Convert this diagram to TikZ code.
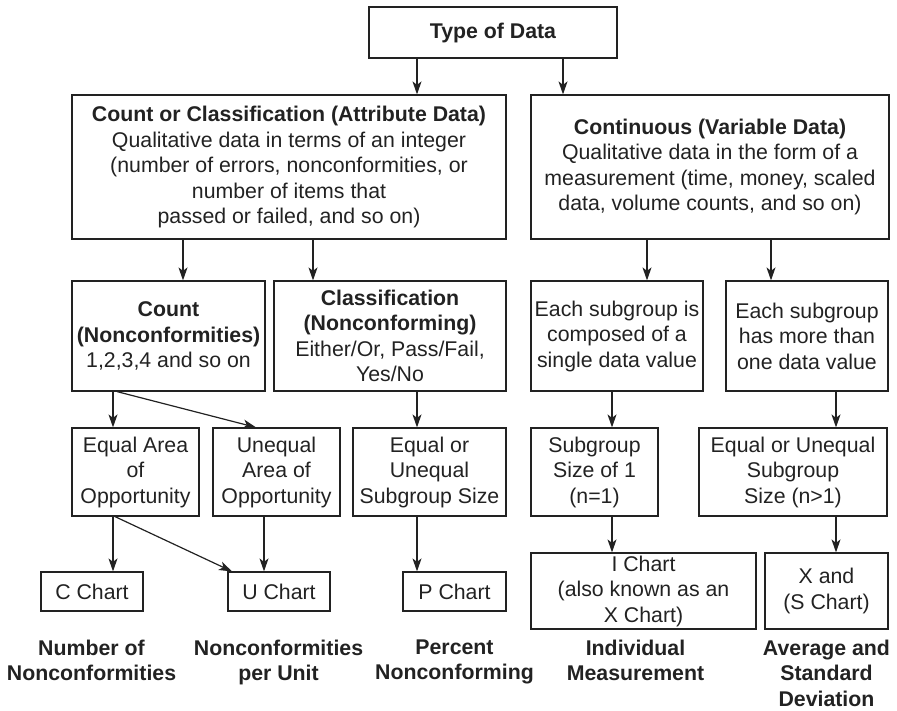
\documentclass[tikz,border=0pt]{standalone}
\usepackage{fontspec}
\setmainfont{Liberation Sans}
\usetikzlibrary{arrows.meta}
\definecolor{ink}{HTML}{222222}

\newcommand{\dropto}[3]{%
  \coordinate (drop-#1-#3) at ([xshift=#2]#1.south);
  \draw[arr] (drop-#1-#3) -- (drop-#1-#3 |- #3.north);}

\begin{document}
\begin{tikzpicture}[x=1pt,y=-1pt,
  txt/.style={font=\fontsize{21.3}{25.5}\selectfont, text=ink, align=center, inner sep=0pt},
  box/.style={txt, draw=ink, line width=1.2pt},
  lbl/.style={txt, font=\fontsize{21.3}{25.5}\selectfont\bfseries, anchor=north},
  arr/.style={draw=ink, line width=1.2pt, -{Stealth[length=13pt,width=9pt,inset=3.5pt]}}]
\useasboundingbox (0,0) rectangle (897,710);

% top level
\node[box, minimum width=248pt, minimum height=51pt] (type) at (493,32.5) {\textbf{Type of Data}};

% data families
\node[box, minimum width=434pt, minimum height=144pt] (attr) at (289,167)
  {\textbf{Count or Classification (Attribute Data)}\\
   Qualitative data in terms of an integer\\
   (number of errors, nonconformities, or\\
   number of items that\\
   passed or failed, and so on)};
\node[box, minimum width=358pt, minimum height=144pt] (cont) at (710,167)
  {\textbf{Continuous (Variable Data)}\\
   Qualitative data in the form of a\\
   measurement (time, money, scaled\\
   data, volume counts, and so on)};

% second level
\node[box, minimum width=193pt, minimum height=110pt] (count) at (168.5,336)
  {\textbf{Count}\\ \textbf{(Nonconformities)}\\ 1,2,3,4 and so on};
\node[box, minimum width=232pt, minimum height=110pt] (class) at (390,336)
  {\textbf{Classification}\\ \textbf{(Nonconforming)}\\ Either/Or, Pass/Fail,\\ Yes/No};
\node[box, minimum width=172pt, minimum height=110pt] (single) at (617,336)
  {Each subgroup is\\ composed of a\\ single data value};
\node[box, minimum width=162pt, minimum height=110pt] (more) at (807,336)
  {Each subgroup\\ has more than\\ one data value};

% third level
\node[box, minimum width=127pt, minimum height=88pt] (eqarea) at (135.5,472)
  {Equal Area\\ of\\ Opportunity};
\node[box, minimum width=127pt, minimum height=88pt] (uneqarea) at (276.5,472)
  {Unequal\\ Area of\\ Opportunity};
\node[box, minimum width=153pt, minimum height=88pt] (eqsub) at (429.5,472)
  {Equal or\\ Unequal\\ Subgroup Size};
\node[box, minimum width=127pt, minimum height=88pt] (size1) at (594.5,472)
  {Subgroup\\ Size of 1\\ (n=1)};
\node[box, minimum width=188pt, minimum height=88pt] (sizen) at (793,472)
  {Equal or Unequal\\ Subgroup\\ Size (n>1)};

% charts
\node[box, minimum width=102pt, minimum height=39pt] (cchart) at (92,591.5) {C Chart};
\node[box, minimum width=102pt, minimum height=39pt] (uchart) at (279,591.5) {U Chart};
\node[box, minimum width=103pt, minimum height=39pt] (pchart) at (454.5,591.5) {P Chart};
\node[box, minimum width=225pt, minimum height=76pt] (ichart) at (643.5,591)
  {I Chart\\ (also known as an\\ X Chart)};
\node[box, minimum width=123pt, minimum height=76pt] (xchart) at (826.5,591)
  {X and\\ (S Chart)};

% captions under the charts
\node[lbl] (capc) at (91.5,639.5) {Number of\\ Nonconformities};
\node[lbl] (capu) at (278.5,639.5) {Nonconformities\\ per Unit};
\node[lbl] (capp) at (454.5,639.5) {Percent\\ Nonconforming};
\node[lbl] (capi) at (635.5,639.5) {Individual\\ Measurement};
\node[lbl] (capx) at (826.5,639.5) {Average and\\ Standard\\ Deviation};

% connectors
\dropto{type}{-76pt}{attr}
\dropto{type}{70pt}{cont}
\dropto{attr}{-106pt}{count}
\dropto{attr}{24pt}{class}
\dropto{cont}{-63pt}{single}
\dropto{cont}{61pt}{more}
\dropto{count}{-55.5pt}{eqarea}
\draw[arr] ([xshift=-51.5pt]count.south) -- ([xshift=-20.5pt]uneqarea.north);
\dropto{class}{27pt}{eqsub}
\dropto{single}{-5pt}{size1}
\dropto{more}{29pt}{sizen}
\dropto{eqarea}{-22.5pt}{cchart}
\draw[arr] ([xshift=-20.5pt]eqarea.south) -- ([xshift=-47pt]uchart.north);
\dropto{uneqarea}{-12.5pt}{uchart}
\dropto{eqsub}{-12.5pt}{pchart}
\dropto{size1}{17.5pt}{ichart}
\dropto{sizen}{43pt}{xchart}
\end{tikzpicture}
\end{document}
